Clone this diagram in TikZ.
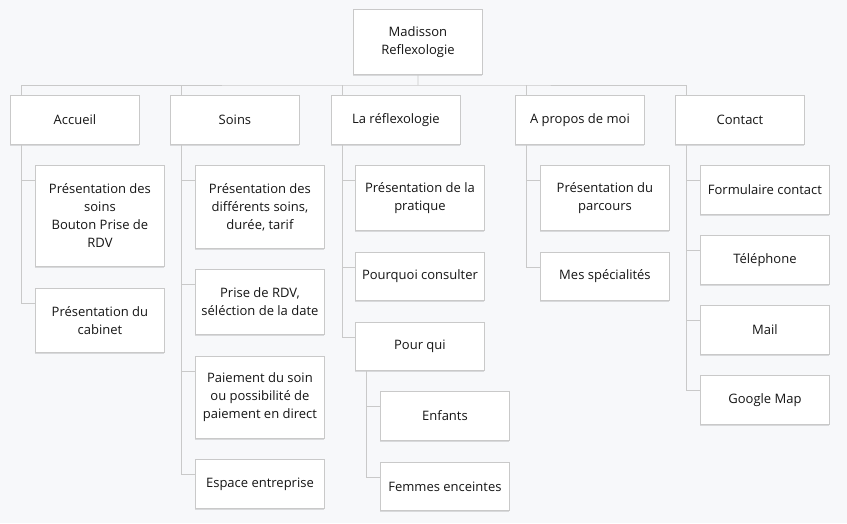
\documentclass[tikz,border=0pt]{standalone}
\usepackage{fontspec}
\setmainfont{Open Sans}
\usetikzlibrary{shadows}
\definecolor{bg}{HTML}{F7F8FA}
\definecolor{edge}{HTML}{C9C9C9}
\definecolor{txt}{HTML}{151515}
\begin{document}
\begin{tikzpicture}[x=1pt,y=-1pt,
  box/.style={draw=edge, line width=0.9pt, fill=white, anchor=north west,
    minimum width=129pt, align=center, inner sep=2pt, text=txt,
    font=\fontsize{13}{18}\selectfont,
    drop shadow={shadow xshift=0pt, shadow yshift=-1.2pt, opacity=0.12, fill=black}},
  link/.style={draw=edge, line width=0.9pt}]
\fill[bg] (0,0) rectangle (847,523);
\useasboundingbox (0,0) rectangle (847,523);
% root
\node[box, minimum height=65pt] (root) at (353,9) {Madisson\\Reflexologie};
% level 1
\node[box, minimum height=49pt] (accueil) at (10,95) {Accueil};
\node[box, minimum height=49pt] (soins) at (170,95) {Soins};
\node[box, minimum height=49pt] (refl) at (331,95) {La réflexologie};
\node[box, minimum height=49pt] (apropos) at (515,95) {A propos de moi};
\node[box, minimum height=49pt] (contact) at (675,95) {Contact};
% Accueil
\node[box, minimum height=101pt] (a1) at (35,165) {Présentation des\\soins\\Bouton Prise de\\RDV};
\node[box, minimum height=64pt] (a2) at (35,288) {Présentation du\\cabinet};
% Soins
\node[box, minimum height=83pt] (s1) at (195,165) {Présentation des\\différents soins,\\durée, tarif};
\node[box, minimum height=65pt] (s2) at (195,269) {Prise de RDV,\\séléction de la date};
\node[box, minimum height=82pt] (s3) at (195,356) {Paiement du soin\\ou possibilité de\\paiement en direct};
\node[box, minimum height=49pt] (s4) at (195,459) {Espace entreprise};
% La reflexologie
\node[box, minimum height=65pt] (r1) at (355,165) {Présentation de la\\pratique};
\node[box, minimum height=48pt] (r2) at (355,252) {Pourquoi consulter};
\node[box, minimum height=48pt] (r3) at (355,322) {Pour qui};
\node[box, minimum height=49pt] (r31) at (380,391) {Enfants};
\node[box, minimum height=48pt] (r32) at (380,462) {Femmes enceintes};
% A propos
\node[box, minimum height=65pt] (p1) at (540,165) {Présentation du\\parcours};
\node[box, minimum height=48pt] (p2) at (540,252) {Mes spécialités};
% Contact
\node[box, minimum height=49pt] (c1) at (700,165) {Formulaire contact};
\node[box, minimum height=49pt] (c2) at (700,235) {Téléphone};
\node[box, minimum height=49pt] (c3) at (700,305) {Mail};
\node[box, minimum height=49pt] (c4) at (700,375) {Google Map};
% bus
\coordinate (bus) at (418,85);
\draw[link] (root.south) -- (bus);
\draw[link] ([xshift=11pt]accueil.north west) |- (bus) -| ([xshift=11pt]contact.north west);
\foreach \n in {soins,refl,apropos}
  \draw[link] ([xshift=11pt]\n.north west) -- ([xshift=11pt]\n.north west |- bus);
% children connectors
\foreach \p/\c in {accueil/a1,accueil/a2,soins/s1,soins/s2,soins/s3,soins/s4,
                   refl/r1,refl/r2,refl/r3,r3/r31,r3/r32,apropos/p1,apropos/p2,
                   contact/c1,contact/c2,contact/c3,contact/c4}
  \draw[link] ([xshift=11pt]\p.south west) |- ([yshift=-15pt]\c.north west);
\end{tikzpicture}
\end{document}
